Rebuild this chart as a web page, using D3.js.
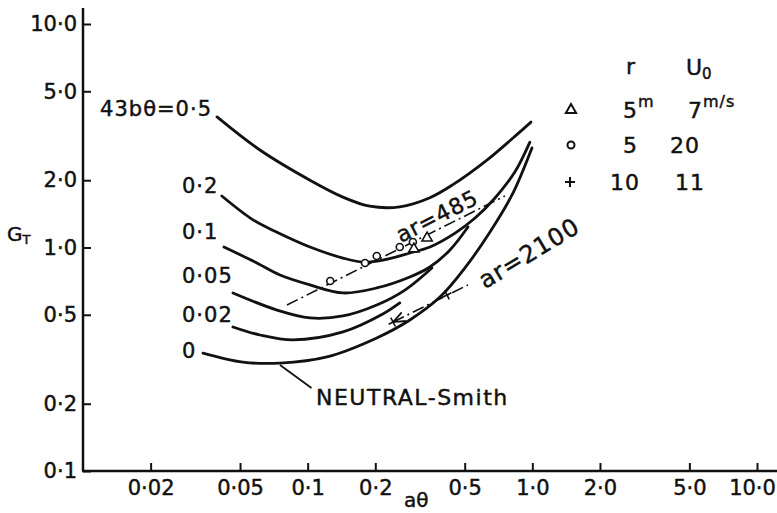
<!DOCTYPE html>
<html>
<head>
<meta charset="utf-8">
<script src="https://cdn.jsdelivr.net/npm/d3@7"></script>
<style>
  body { margin: 0; background: #fff; }
  svg { display: block; font-family: "DejaVu Sans", sans-serif; }
  text { fill: #111; stroke: #111; stroke-width: 0.45px; }
</style>
</head>
<body>
<svg id="chart" width="777" height="513"></svg>
<script>
// G_T against aθ for several stabilities 43bθ (log-log)

const xTicks = [0.02, 0.05, 0.1, 0.2, 0.5, 1, 2, 5, 10];
const xTickLabels = ['0·02', '0·05', '0·1', '0·2', '0·5', '1·0', '2·0', '5·0', '10·0'];
const yTicks = [0.1, 0.2, 0.5, 1, 2, 5, 10];
const yTickLabels = ['0·1', '0·2', '0·5', '1·0', '2·0', '5·0', '10·0'];

// curves
const at_b05 = [0.0395, 0.0613, 0.1024, 0.1436, 0.189, 0.257, 0.350, 0.443, 0.628, 0.820, 0.986];
const gt_b05 = [3.84, 2.73, 2.00, 1.68, 1.53, 1.52, 1.67, 1.91, 2.46, 3.09, 3.64];
const at_b02 = [0.0415, 0.0571, 0.0730, 0.1024, 0.1436, 0.176, 0.216, 0.285, 0.350, 0.453, 0.556, 0.682, 0.837, 0.975];
const gt_b02 = [1.70, 1.33, 1.17, 1.005, 0.897, 0.861, 0.879, 0.945, 1.005, 1.16, 1.355, 1.666, 2.18, 2.96];
const at_b01 = [0.0424, 0.0583, 0.0753, 0.1024, 0.1436, 0.203, 0.285, 0.350, 0.430, 0.517];
const gt_b01 = [1.005, 0.861, 0.753, 0.680, 0.626, 0.659, 0.738, 0.818, 0.975, 1.235];
const at_b005 = [0.0465, 0.0730, 0.1024, 0.1436, 0.203, 0.271, 0.357];
const gt_b005 = [0.626, 0.525, 0.484, 0.494, 0.553, 0.645, 0.81];
const at_b002 = [0.0465, 0.0613, 0.0860, 0.1436, 0.216, 0.257];
const gt_b002 = [0.441, 0.406, 0.386, 0.419, 0.504, 0.565];
const at_b0 = [0.0342, 0.0515, 0.0753, 0.1219, 0.203, 0.285, 0.388, 0.501, 0.648, 0.812, 0.996];
const gt_b0 = [0.337, 0.307, 0.304, 0.324, 0.394, 0.474, 0.600, 0.81, 1.173, 1.718, 2.79];

const curveNames = ['43bθ=0·5', '0·2', '0·1', '0·05', '0·02', '0'];

// observations
const circleAt = [0.126, 0.180, 0.203, 0.257, 0.294];
const circleGt = [0.708, 0.852, 0.916, 1.005, 1.058];
const triAt = [0.297, 0.340];
const triGt = [0.985, 1.103];
const crossAt = [0.240, 0.417];
const crossGt = [0.464, 0.613];

// ar lines
const ar485At = [0.0809, 0.755];
const ar485Gt = [0.553, 1.70];
const ar2100At = [0.240, 0.517];
const ar2100Gt = [0.464, 0.680];

const neutralLeaderAt = [0.0753, 0.104];
const neutralLeaderGt = [0.298, 0.235];

const legendRows = [
  { sym: 'triangle', r: '5', rUnit: 'm', u: '7', uUnit: 'm/s' },
  { sym: 'circle', r: '5', rUnit: '', u: '20', uUnit: '' },
  { sym: 'cross', r: '10', rUnit: '', u: '11', uUnit: '' }
];

const svg = d3.select('#chart');

const x = d3.scaleLog().domain([0.01, 10]).range([83, 757]);
const y = d3.scaleLog().domain([0.1, 10]).range([471, 24]);

// axes
svg.append('line').attr('x1', 83).attr('x2', 83).attr('y1', 8).attr('y2', 471)
  .attr('stroke', '#111').attr('stroke-width', 2.5);
svg.append('line').attr('x1', 82).attr('x2', 777).attr('y1', 471).attr('y2', 471)
  .attr('stroke', '#111').attr('stroke-width', 2.5);

const yAxis = svg.append('g').attr('transform', 'translate(83,0)')
  .call(d3.axisLeft(y).tickValues(yTicks).tickFormat((d, i) => yTickLabels[i])
    .tickSize(-8).tickPadding(6));
const xAxis = svg.append('g').attr('transform', 'translate(0,471)')
  .call(d3.axisBottom(x).tickValues(xTicks).tickFormat((d, i) => xTickLabels[i])
    .tickSize(-8).tickPadding(9));

[yAxis, xAxis].forEach(g => {
  g.select('.domain').remove();
  g.selectAll('line').attr('stroke', '#111').attr('stroke-width', 2);
  g.selectAll('text').attr('font-size', 21).attr('font-family', 'DejaVu Sans').attr('fill', '#111');
});
// last label sits a little left of its tick, against the edge
xAxis.selectAll('.tick text').filter(d => d === 10).attr('dx', -5);

svg.append('text').attr('x', 7).attr('y', 241).attr('font-size', 20)
  .text('G').append('tspan').attr('font-size', 13).attr('dy', 3).text('T');
svg.append('text').attr('x', 404).attr('y', 507).attr('font-size', 20).text('aθ');

// curves
const line = d3.line().x(d => x(d[0])).y(d => y(d[1])).curve(d3.curveCatmullRom.alpha(0.5));
const curves = [
  d3.zip(at_b05, gt_b05), d3.zip(at_b02, gt_b02), d3.zip(at_b01, gt_b01),
  d3.zip(at_b005, gt_b005), d3.zip(at_b002, gt_b002), d3.zip(at_b0, gt_b0)
];
svg.append('g').selectAll('path').data(curves).join('path')
  .attr('d', line).attr('fill', 'none').attr('stroke', '#111')
  .attr('stroke-width', 2.8).attr('stroke-linecap', 'round');

// curve labels
const labelBase = [116, 193, 239, 283, 322, 358];
svg.append('g').selectAll('text').data(curveNames).join('text')
  .attr('x', (d, i) => i === 0 ? 212 : 182)
  .attr('y', (d, i) => labelBase[i])
  .attr('text-anchor', (d, i) => i === 0 ? 'end' : 'start')
  .attr('font-size', 21).attr('letter-spacing', 1)
  .text(d => d);

// ar lines
const straight = d3.line().x(d => x(d[0])).y(d => y(d[1]));
svg.append('defs').append('marker')
  .attr('id', 'arrow').attr('viewBox', '0 0 10 10').attr('refX', 0).attr('refY', 5)
  .attr('markerWidth', 12).attr('markerHeight', 12).attr('orient', 'auto')
  .attr('markerUnits', 'userSpaceOnUse')
  .append('path').attr('d', 'M10,1 L0,5 L10,9').attr('fill', 'none')
  .attr('stroke', '#111').attr('stroke-width', 1.5);

svg.append('path').attr('d', straight(d3.zip(ar485At, ar485Gt)))
  .attr('fill', 'none').attr('stroke', '#111').attr('stroke-width', 1.6)
  .attr('stroke-dasharray', '12,4,2,4');
svg.append('path').attr('d', straight(d3.zip(ar2100At, ar2100Gt)))
  .attr('fill', 'none').attr('stroke', '#111').attr('stroke-width', 1.6)
  .attr('stroke-dasharray', '12,4,2,4').attr('marker-start', 'url(#arrow)');

svg.append('text').attr('transform', 'translate(437,216) rotate(-27)')
  .attr('text-anchor', 'middle').attr('dy', '0.35em').attr('font-size', 22)
  .attr('letter-spacing', 1).text('ar=485');
svg.append('text').attr('transform', 'translate(529,253) rotate(-31)')
  .attr('text-anchor', 'middle').attr('dy', '0.35em').attr('font-size', 24)
  .attr('letter-spacing', 1).text('ar=2100');

// markers
svg.append('g').selectAll('circle').data(d3.zip(circleAt, circleGt)).join('circle')
  .attr('cx', d => x(d[0])).attr('cy', d => y(d[1])).attr('r', 3.5)
  .attr('fill', '#fff').attr('stroke', '#111').attr('stroke-width', 1.6);
const triPath = d3.symbol(d3.symbolTriangle, 45)();
svg.append('g').selectAll('path').data(d3.zip(triAt, triGt)).join('path')
  .attr('transform', d => `translate(${x(d[0])},${y(d[1])})`).attr('d', triPath)
  .attr('fill', '#fff').attr('stroke', '#111').attr('stroke-width', 1.6);
const crossPath = 'M-5,0H5M0,-5V5';
svg.append('g').selectAll('path').data(d3.zip(crossAt, crossGt)).join('path')
  .attr('transform', d => `translate(${x(d[0])},${y(d[1])}) rotate(-27)`).attr('d', crossPath)
  .attr('stroke', '#111').attr('stroke-width', 1.6);

// neutral label
svg.append('path').attr('d', straight(d3.zip(neutralLeaderAt, neutralLeaderGt)))
  .attr('stroke', '#111').attr('stroke-width', 1.8);
svg.append('text').attr('x', 316).attr('y', 405).attr('font-size', 22)
  .attr('letter-spacing', 1.5).text('NEUTRAL-Smith');

// legend
svg.append('text').attr('x', 626).attr('y', 74).attr('font-size', 22).text('r');
svg.append('text').attr('x', 686).attr('y', 75).attr('font-size', 22)
  .text('U').append('tspan').attr('font-size', 15).attr('dy', 4).text('0');

const rowBase = [118, 153, 190];
const rX = [623, 623, 610];
const uX = [688, 670, 675];
const leg = svg.append('g');
legendRows.forEach((row, i) => {
  const cy = rowBase[i] - 8;
  if (row.sym === 'triangle') {
    leg.append('path').attr('transform', `translate(571,${cy})`).attr('d', triPath)
      .attr('fill', 'none').attr('stroke', '#111').attr('stroke-width', 2);
  } else if (row.sym === 'circle') {
    leg.append('circle').attr('cx', 571).attr('cy', cy).attr('r', 3.5)
      .attr('fill', 'none').attr('stroke', '#111').attr('stroke-width', 2);
  } else {
    leg.append('path').attr('transform', `translate(570,${cy})`).attr('d', crossPath)
      .attr('stroke', '#111').attr('stroke-width', 2);
  }
  const rt = leg.append('text').attr('x', rX[i]).attr('y', rowBase[i]).attr('font-size', 22)
    .attr('letter-spacing', 1).text(row.r);
  if (row.rUnit) rt.append('tspan').attr('font-size', 16).attr('dy', -11).text(row.rUnit);
  const ut = leg.append('text').attr('x', uX[i]).attr('y', rowBase[i]).attr('font-size', 22)
    .attr('letter-spacing', 1).text(row.u);
  if (row.uUnit) ut.append('tspan').attr('font-size', 16).attr('dy', -11).text(row.uUnit);
});
</script>
</body>
</html>
